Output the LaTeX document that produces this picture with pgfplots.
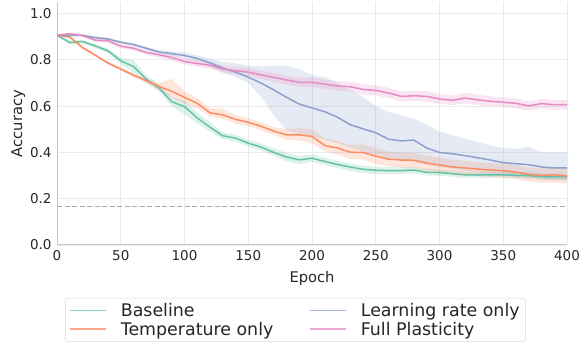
\documentclass[border=0pt]{standalone}
\usepackage{pgfplots}
\pgfplotsset{compat=1.18}
\usepackage{pgfplotstable}
\usepgfplotslibrary{fillbetween}
\usepackage{fontspec}
\setmainfont{DejaVu Sans}
\definecolor{cB}{HTML}{66C2A5}
\definecolor{cT}{HTML}{FC8D62}
\definecolor{cL}{HTML}{8DA0CB}
\definecolor{cF}{HTML}{E78AC3}
\definecolor{txt}{HTML}{262626}

\pgfplotstableread{
x m lo hi
0 .906 .903 .909
10 .875 .867 .883
20 .879 .871 .887
30 .860 .852 .868
40 .839 .829 .849
50 .796 .782 .808
60 .771 .745 .800
70 .717 .700 .735
80 .678 .663 .693
90 .619 .600 .640
100 .598 .565 .625
110 .549 .525 .572
120 .509 .490 .530
130 .472 .457 .487
140 .462 .447 .477
150 .440 .425 .455
160 .423 .408 .440
170 .400 .385 .417
180 .380 .362 .398
190 .368 .350 .385
200 .375 .360 .392
210 .361 .346 .377
220 .348 .332 .364
230 .337 .320 .352
240 .327 .310 .342
250 .323 .307 .338
260 .321 .306 .336
270 .321 .306 .336
280 .324 .309 .338
290 .314 .300 .328
300 .313 .299 .327
310 .308 .295 .322
320 .303 .290 .316
330 .303 .290 .316
340 .303 .290 .316
350 .303 .290 .317
360 .301 .288 .315
370 .300 .287 .314
380 .295 .282 .309
390 .294 .281 .308
400 .294 .280 .308
}\base

\pgfplotstableread{
x m lo hi
0 .906 .903 .909
10 .899 .893 .905
20 .853 .847 .859
30 .820 .814 .826
40 .786 .780 .792
50 .760 .753 .767
60 .734 .726 .742
70 .710 .700 .720
80 .685 .670 .700
90 .664 .635 .718
100 .638 .610 .665
110 .612 .590 .635
120 .571 .555 .590
130 .562 .545 .590
140 .543 .525 .562
150 .530 .513 .548
160 .513 .495 .530
170 .492 .475 .510
180 .476 .455 .500
190 .476 .452 .505
200 .469 .440 .500
210 .430 .405 .460
220 .419 .390 .450
230 .401 .372 .432
240 .400 .368 .435
250 .384 .350 .418
260 .371 .340 .405
270 .367 .335 .400
280 .366 .333 .398
290 .354 .322 .386
300 .346 .315 .378
310 .337 .307 .368
320 .333 .303 .364
330 .328 .298 .358
340 .324 .294 .354
350 .321 .290 .352
360 .315 .285 .345
370 .305 .275 .335
380 .301 .270 .332
390 .303 .270 .335
400 .298 .265 .330
}\temp

\pgfplotstableread{
x m lo hi
0 .906 .903 .909
10 .906 .902 .910
20 .906 .902 .910
30 .896 .891 .901
40 .890 .884 .896
50 .876 .870 .882
60 .866 .860 .872
70 .850 .843 .857
80 .834 .826 .842
90 .827 .817 .837
100 .819 .807 .831
110 .806 .790 .820
120 .787 .768 .805
130 .764 .745 .792
140 .747 .725 .785
150 .725 .700 .775
160 .700 .640 .772
170 .670 .560 .775
180 .638 .495 .775
190 .609 .480 .760
200 .592 .470 .735
210 .576 .455 .725
220 .552 .440 .700
230 .520 .420 .670
240 .502 .405 .640
250 .485 .390 .600
260 .457 .375 .575
270 .450 .365 .560
280 .453 .360 .545
290 .419 .345 .520
300 .400 .335 .490
310 .394 .330 .475
320 .386 .320 .460
330 .377 .315 .445
340 .367 .305 .430
350 .356 .300 .420
360 .351 .295 .415
370 .347 .290 .425
380 .337 .285 .400
390 .333 .280 .400
400 .333 .280 .400
}\lr

\pgfplotstableread{
x m lo hi
0 .906 .903 .909
10 .913 .908 .918
20 .905 .899 .911
30 .885 .878 .892
40 .882 .874 .890
50 .859 .850 .868
60 .850 .841 .859
70 .832 .822 .842
80 .822 .810 .834
90 .810 .797 .823
100 .793 .780 .806
110 .784 .770 .798
120 .777 .762 .792
130 .760 .745 .776
140 .753 .737 .770
150 .747 .730 .765
160 .735 .717 .753
170 .724 .705 .743
180 .713 .693 .733
190 .703 .682 .724
200 .703 .682 .724
210 .695 .674 .716
220 .687 .666 .708
230 .684 .662 .706
240 .672 .650 .694
250 .668 .646 .690
260 .657 .635 .679
270 .642 .620 .664
280 .645 .623 .667
290 .642 .620 .664
300 .631 .610 .652
310 .625 .604 .646
320 .635 .612 .658
330 .627 .605 .649
340 .621 .600 .642
350 .617 .596 .638
360 .612 .590 .634
370 .601 .580 .622
380 .611 .590 .632
390 .606 .585 .627
400 .606 .585 .627
}\full

\begin{document}
\begin{tikzpicture}
\begin{axis}[
  scale only axis, width=510bp, height=243bp,
  xmin=0, xmax=400, ymin=0, ymax=1.05,
  xtick={0,50,...,400}, ytick={0,0.2,0.4,0.6,0.8,1.0},
  yticklabel style={/pgf/number format/fixed, /pgf/number format/fixed zerofill, /pgf/number format/precision=1},
  /pgf/number format/assume math mode=true,
  axis x line*=bottom, axis y line*=left,
  axis line style={-, draw=black!22, line width=1bp},
  grid=major, major grid style={draw=black!8, line width=0.8bp},
  major tick length=0pt, tick style={draw=none},
  tick label style={font=\fontsize{13.5bp}{15bp}\selectfont, text=txt},
  xticklabel style={yshift=-2bp}, yticklabel style={xshift=-2bp},
  xlabel={Epoch}, ylabel={Accuracy},
  xlabel style={font=\fontsize{14.7bp}{16bp}\selectfont, text=txt, yshift=-4bp},
  ylabel style={font=\fontsize{14.7bp}{16bp}\selectfont, text=txt, yshift=-2bp},
  legend columns=2,
  legend style={at={(0.4676,-0.218)}, anchor=north, draw=black!15, rounded corners=3bp,
    font=\fontsize{17.4bp}{27bp}\selectfont, text=txt, inner xsep=4bp, inner ysep=3bp,
    /tikz/every even column/.append style={column sep=34bp}},
  legend cell align=left,
  legend image code/.code={\draw[#1, opacity=0.75] (0bp,0bp) -- (36bp,0bp); \path (48bp,0bp);},
]
\addlegendimage{cB, line width=1.5bp}
\addlegendentry{Baseline}
\addlegendimage{cL, line width=1.5bp}
\addlegendentry{Learning rate only}
\addlegendimage{cT, line width=1.5bp}
\addlegendentry{Temperature only}
\addlegendimage{cF, line width=1.5bp}
\addlegendentry{Full Plasticity}

\addplot[draw=black!35, line width=1.2bp, dash pattern=on 5bp off 2.5bp, forget plot] coordinates {(0,0.1667) (400,0.1667)};

\addplot[name path=Blo, draw=none, forget plot] table[x=x,y=lo]{\base};
\addplot[name path=Bhi, draw=none, forget plot] table[x=x,y=hi]{\base};
\addplot[fill=cB, fill opacity=0.22, draw=none, forget plot] fill between[of=Blo and Bhi];
\addplot[cB, line width=1.5bp, forget plot] table[x=x,y=m]{\base};

\addplot[name path=Tlo, draw=none, forget plot] table[x=x,y=lo]{\temp};
\addplot[name path=Thi, draw=none, forget plot] table[x=x,y=hi]{\temp};
\addplot[fill=cT, fill opacity=0.22, draw=none, forget plot] fill between[of=Tlo and Thi];
\addplot[cT, line width=1.5bp, forget plot] table[x=x,y=m]{\temp};

\addplot[name path=Llo, draw=none, forget plot] table[x=x,y=lo]{\lr};
\addplot[name path=Lhi, draw=none, forget plot] table[x=x,y=hi]{\lr};
\addplot[fill=cL, fill opacity=0.22, draw=none, forget plot] fill between[of=Llo and Lhi];
\addplot[cL, line width=1.5bp, forget plot] table[x=x,y=m]{\lr};

\addplot[name path=Flo, draw=none, forget plot] table[x=x,y=lo]{\full};
\addplot[name path=Fhi, draw=none, forget plot] table[x=x,y=hi]{\full};
\addplot[fill=cF, fill opacity=0.22, draw=none, forget plot] fill between[of=Flo and Fhi];
\addplot[cF, line width=1.5bp, forget plot] table[x=x,y=m]{\full};

\coordinate (bbl) at (rel axis cs:-0.1118,-0.469);
\coordinate (btr) at (rel axis cs:1.0294,1.0082);
\end{axis}
\pgfresetboundingbox
\path[use as bounding box] (bbl) rectangle (btr);
\end{tikzpicture}
\end{document}
